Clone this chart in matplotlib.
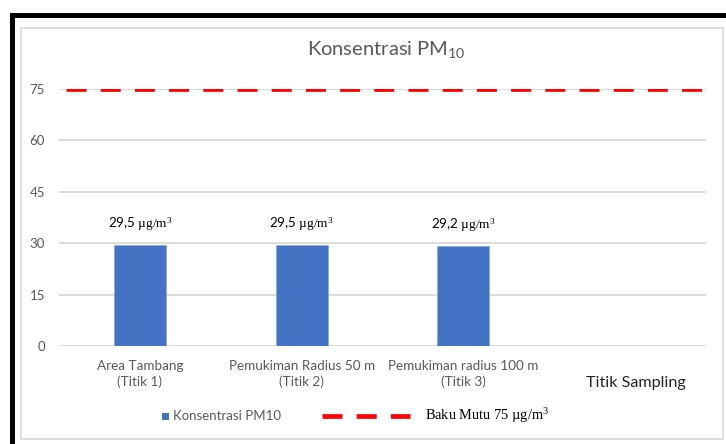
import matplotlib
matplotlib.use("Agg")
import matplotlib.pyplot as plt
from matplotlib.lines import Line2D
from matplotlib.patches import Rectangle

# Data
categories = ["Area Tambang\n(Titik 1)", "Pemukiman Radius 50 m\n(Titik 2)",
              "Pemukiman radius 100 m\n(Titik 3)", ""]
pm10_values = [29.5, 29.5, 29.2]
value_labels = ["29,5", "29,5", "29,2"]
baku_mutu = 75
y_ticks = [0, 15, 30, 45, 60, 75]

SANS = ["Lato", "DejaVu Sans"]
SERIF = ["Liberation Serif", "DejaVu Serif"]
GREY_TEXT = "#595959"
GRID = "#D9D9D9"
BLUE = "#4472C4"
RED = "#FF0000"

plt.rcParams["lines.scale_dashes"] = False
plt.rcParams["mathtext.fontset"] = "custom"
plt.rcParams["mathtext.rm"] = "Liberation Serif"
plt.rcParams["mathtext.sf"] = "Lato"

UNIT = r"$\mathrm{µg/m^{3}}$"

W, H = 726, 444
fig = plt.figure(figsize=(W / 100, H / 100), dpi=100)

def px(x, y):
    """Pixel position (from top-left) to figure fraction."""
    return x / W, 1 - y / H

# Frames around the chart
fig.add_artist(Rectangle(px(20.5, 439), 702.5 / W, 411 / H, transform=fig.transFigure,
                         fill=False, edgecolor=GRID, linewidth=1.2))
fig.add_artist(Rectangle(px(11.5, 460), 800 / W, 445.5 / H, transform=fig.transFigure,
                         fill=False, edgecolor="black", linewidth=3.6))

# Plot area
left, right, top, bottom = 59, 706, 89, 346
ax = fig.add_axes([left / W, 1 - bottom / H, (right - left) / W, (bottom - top) / H])
ax.set_xlim(-0.5, len(categories) - 0.5)
ax.set_ylim(0, 75)

for spine in ax.spines.values():
    spine.set_visible(False)

ax.set_yticks(y_ticks)
ax.yaxis.grid(True, color=GRID, linewidth=1.3)
ax.set_axisbelow(True)
ax.tick_params(axis="y", length=0, pad=10, labelsize=9.5, labelcolor=GREY_TEXT)
for lbl in ax.get_yticklabels():
    lbl.set_fontfamily(SANS)

ax.set_xticks(range(len(categories)))
ax.set_xticklabels(categories, fontsize=9.7, color=GREY_TEXT, family=SANS, linespacing=1.35)
ax.tick_params(axis="x", length=0, pad=10)

bars = ax.bar(range(len(pm10_values)), pm10_values, width=0.32, color=BLUE,
              edgecolor="#8FAADC", linewidth=0.6, zorder=3)

for bar, text in zip(bars, value_labels):
    ax.annotate(f"{text} {UNIT}", (bar.get_x() + bar.get_width() / 2, bar.get_height()),
                xytext=(0, 12), textcoords="offset points", ha="center", va="baseline",
                fontsize=9.6, family=SANS, color="black")

# Standard limit line
on_pt, off_pt = 20 * 0.72, 14.2 * 0.72
ax.axhline(baku_mutu, color=RED, linewidth=3.4, zorder=4,
           linestyle=(on_pt + off_pt - 7 * 0.72, (on_pt, off_pt)),
           dash_capstyle="butt")

# Title
fig.text(*px(386, 50), r"Konsentrasi PM$_{\mathsf{10}}$", ha="center", va="center",
         fontsize=14.5, color=GREY_TEXT, family=SANS)

# Axis title
fig.text(*px(636, 383), "Titik Sampling", ha="center", va="center",
         fontsize=11.6, color="#222222", family=SANS)

# Legend
fig.add_artist(Rectangle(px(162, 420), 7 / W, 7 / H, transform=fig.transFigure,
                         facecolor=BLUE, edgecolor="none"))
fig.text(*px(173, 416), "Konsentrasi PM10", ha="left", va="center",
         fontsize=9.5, color=GREY_TEXT, family=SANS)
fig.add_artist(Line2D([322 / W, 410 / W], [1 - 416 / H] * 2, transform=fig.transFigure,
                      color=RED, linewidth=3.4, linestyle=(0, (on_pt, off_pt)),
                      dash_capstyle="butt"))
fig.text(*px(425, 416), r"Baku Mutu 75 $\mathrm{µg/m^{3}}$", ha="left", va="center",
         fontsize=10.4, color="black", family=SERIF)

fig.savefig("out.png", dpi=100)
